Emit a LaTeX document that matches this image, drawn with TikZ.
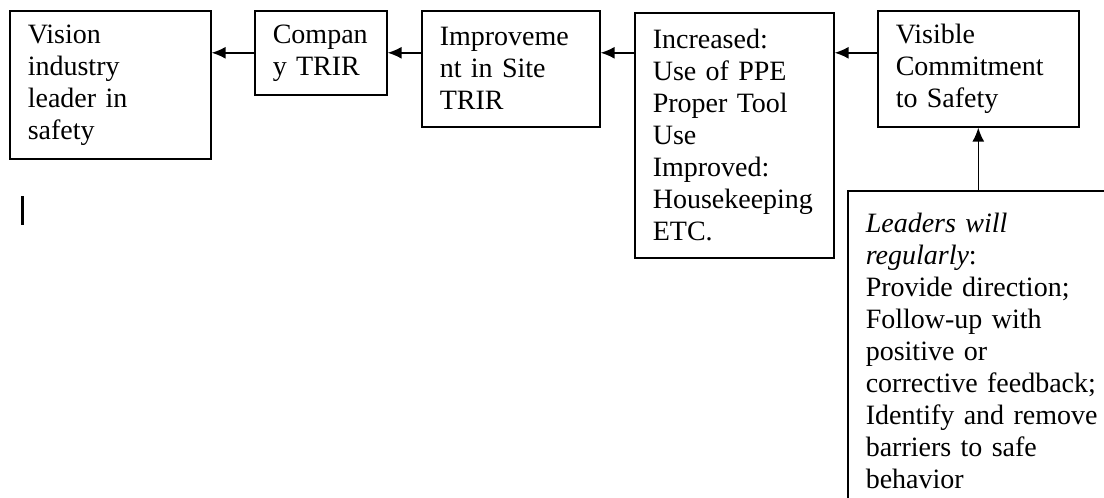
\documentclass[tikz,border=0pt]{standalone}
\usepackage{fontspec}
\setmainfont{Liberation Serif}
\usetikzlibrary{arrows.meta}
\begin{document}
\begin{tikzpicture}[x=0.5pt, y=-0.5pt,
    specification/.style ={draw, line width=0.8pt, anchor=north west, align=left,
      inner xsep=9pt, font=\fontsize{14}{16}\selectfont},
    link/.style ={line width=0.8pt, -{Latex[length=7pt,width=6pt]}}]
   \useasboundingbox (0,0) rectangle (1104,498);
   \clip (0,0) rectangle (1104,498);
   \node[specification, text width=82.5pt, minimum height=74pt] (A) at (9,10)
     {Vision\\industry\\leader in\\safety};
   \node[specification, text width=48pt, minimum height=42pt] (B) at (254,10)
     {Compan\\y TRIR};
   \node[specification, text width=71pt, minimum height=58pt] (C) at (421,10)
     {Improveme\\nt in Site\\TRIR};
   \node[specification, text width=81.5pt, minimum height=122.5pt] (D) at (634,12)
     {Increased:\\Use of PPE\\Proper Tool\\Use\\Improved:\\Housekeeping\\ETC.};
   \node[specification, text width=82.5pt, minimum height=58pt] (E) at (877,10)
     {Visible\\Commitment\\to Safety};
   \node[specification, text width=130pt, minimum height=160pt] (F) at (847,190)
     {\textit{Leaders will}\\\textit{regularly}:\\Provide direction;\\Follow-up with\\positive or\\corrective feedback;\\Identify and remove\\barriers to safe\\behavior};
   \draw[link] (B.west) -- (B.west -| A.east);
   \draw[link] (C.west |- B.east) -- (B.east);
   \draw[link] (D.west |- B.east) -- (C.east |- B.east);
   \draw[link] (E.west |- B.east) -- (D.east |- B.east);
   \draw[link] (F.north -| E.south) -- (E.south);
   % stray cursor mark
   \fill (21,196) rectangle (24,225);
\end{tikzpicture}
\end{document}
